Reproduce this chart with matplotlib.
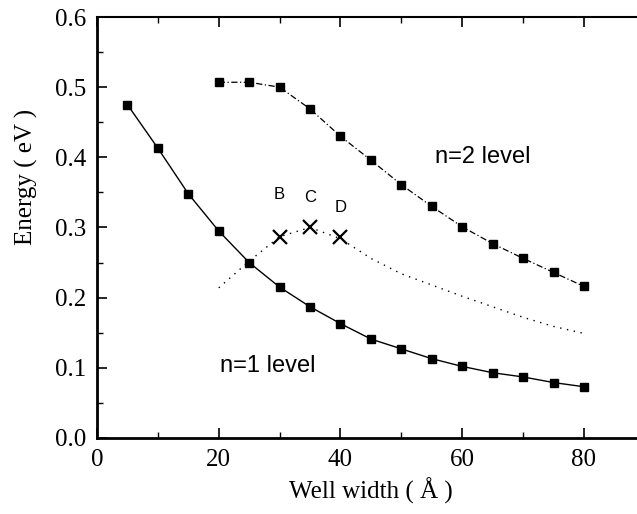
import numpy as np
import matplotlib
matplotlib.use("Agg")
import matplotlib.pyplot as plt
from matplotlib.ticker import MultipleLocator

# well width (A) and subband energies (eV)
w1 = [5, 10, 15, 20, 25, 30, 35, 40, 45, 50, 55, 60, 65, 70, 75, 80]
e1 = [0.475, 0.413, 0.348, 0.295, 0.250, 0.215, 0.187, 0.163, 0.141,
      0.127, 0.113, 0.102, 0.093, 0.087, 0.079, 0.073]

w2 = [20, 25, 30, 35, 40, 45, 50, 55, 60, 65, 70, 75, 80]
e2 = [0.507, 0.507, 0.500, 0.469, 0.430, 0.396, 0.361, 0.330, 0.301,
      0.277, 0.256, 0.236, 0.216]

w_dot = [20, 25, 30, 35, 40, 45, 50, 55, 60, 65, 70, 75, 80]
e_dot = [0.214, 0.252, 0.287, 0.300, 0.284, 0.256, 0.234, 0.218, 0.202,
         0.187, 0.172, 0.159, 0.149]

w_cross = [30, 35, 40]
e_cross = [0.287, 0.301, 0.286]
cross_labels = ["B", "C", "D"]
label_y = [0.347, 0.343, 0.329]

fig = plt.figure(figsize=(6.37, 5.14), dpi=100)
ax = fig.add_axes([0.1523, 0.1479, 0.860, 0.819])

serif = ["Liberation Serif", "DejaVu Serif"]
sans = ["Liberation Sans", "DejaVu Sans"]

ax.plot(w1, e1, "-", color="black", lw=1.0, marker="s", ms=6, zorder=3)
ax.plot(w2, e2, color="black", lw=0.9, linestyle=(0, (5, 2, 1, 2)),
        marker="s", ms=5.5, zorder=3)
ax.plot(w_dot, e_dot, ":", color="black", lw=1.0, dashes=(1, 4))
ax.plot(w_cross, e_cross, "x", color="black", ms=10, mew=1.6, linestyle="none")

for x, y, t in zip(w_cross, label_y, cross_labels):
    ax.text(x, y, t, ha="center", va="center", fontsize=12, family=sans)

ax.text(55.5, 0.40, "n=2 level", ha="left", va="center", fontsize=17, family=sans)
ax.text(20.2, 0.103, "n=1 level", ha="left", va="center", fontsize=17, family=sans)

ax.set_xlim(0, 90)
ax.set_ylim(0, 0.6)
ax.xaxis.set_major_locator(MultipleLocator(20))
ax.xaxis.set_minor_locator(MultipleLocator(10))
ax.yaxis.set_major_locator(MultipleLocator(0.1))
ax.yaxis.set_minor_locator(MultipleLocator(0.05))
ax.yaxis.set_major_formatter(matplotlib.ticker.FormatStrFormatter("%.1f"))

ax.tick_params(which="both", direction="in", top=True, right=False)
ax.tick_params(which="major", length=7, width=1.2, labelsize=18, pad=8)
ax.tick_params(which="minor", length=4, width=1.0)
for lab in ax.get_xticklabels() + ax.get_yticklabels():
    lab.set_family(serif)

ax.spines["left"].set_linewidth(2)
ax.spines["bottom"].set_linewidth(2)
ax.spines["top"].set_linewidth(1.5)
ax.spines["right"].set_visible(False)

ax.set_xlabel("Well width ( Å )", fontsize=18, family=serif)
ax.set_ylabel("Energy ( eV )", fontsize=18, family=serif)
ax.xaxis.set_label_coords(0.5, -0.095)
ax.yaxis.set_label_coords(-0.108, 0.62)

fig.savefig("out.png", dpi=100)
